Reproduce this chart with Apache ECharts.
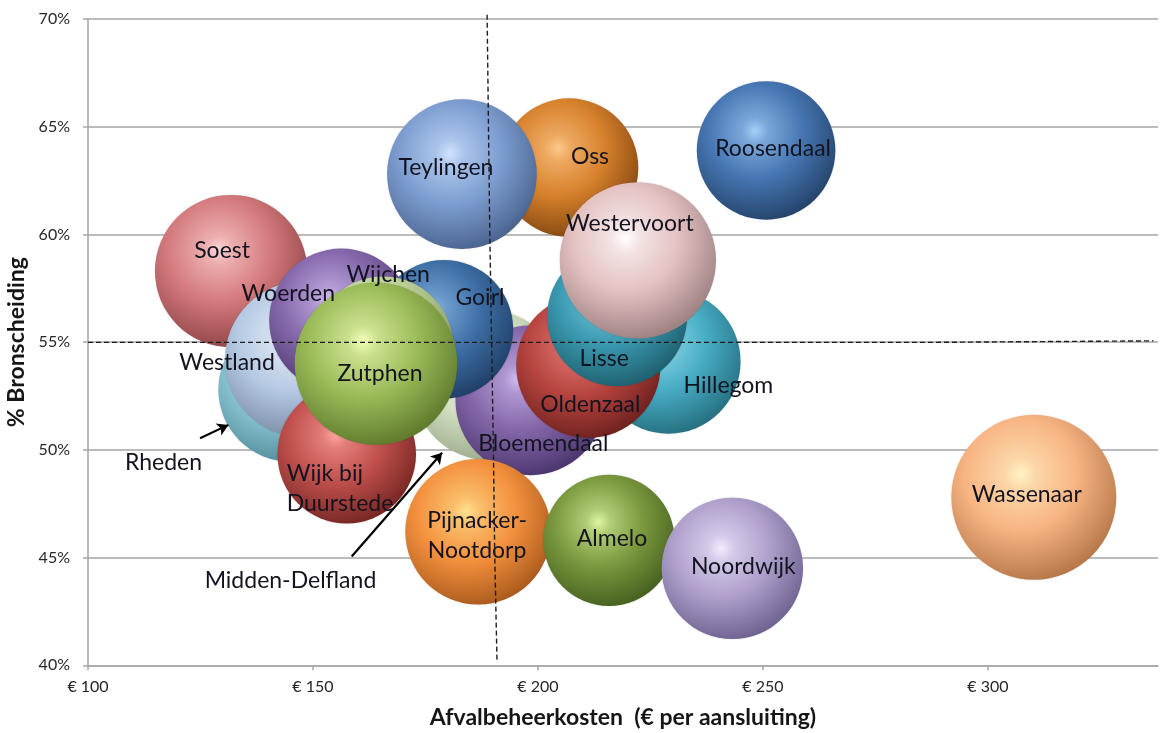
<!DOCTYPE html>
<html>
<head>
<meta charset="utf-8">
<script src="https://cdn.jsdelivr.net/npm/echarts@6/dist/echarts.min.js"></script>
<style>
  html, body { margin: 0; padding: 0; background: #ffffff; }
  #chart { width: 1162px; height: 733px; }
</style>
</head>
<body>
<div id="chart"></div>
<script>
// Gemeenten, drawn bottom-to-top (later entries overlap earlier ones)
const names = ['Oss', 'Teylingen', 'Roosendaal', 'Soest', 'Rheden', 'Westland', 'Woerden',
  'Midden-Delfland', 'Bloemendaal', 'Goirl', 'Wijchen', 'Wijk bij Duurstede', 'Zutphen',
  'Hillegom', 'Oldenzaal', 'Lisse', 'Westervoort', 'Pijnacker-Nootdorp', 'Almelo',
  'Noordwijk', 'Wassenaar'];

// Afvalbeheerkosten (€ per aansluiting)
const costs = [206.9, 183.1, 250.7, 131.8, 145.0, 147.8, 156.3,
  189.0, 198.3, 179.1, 165.6, 157.5, 164.0,
  229.0, 211.2, 217.6, 222.2, 186.7, 215.8,
  243.2, 310.2];

// % Bronscheiding
const shares = [63.1, 62.8, 63.9, 58.3, 52.8, 54.2, 56.0,
  53.0, 52.3, 55.6, 54.8, 49.8, 54.0,
  54.1, 53.9, 56.2, 58.8, 46.2, 45.8,
  44.5, 47.8];

// Bubble size value (area-proportional)
const sizes = [48, 56, 48, 58, 52, 61, 52,
  56, 56, 48, 49, 48, 66,
  52, 52, 49, 61, 53, 43,
  50, 68];

// Reference lines and annotation arrows (data coordinates)
const refCost = [[188.7, 70.2], [189.3, 60], [190.1, 50], [190.4, 45], [190.9, 40.2]];
const refShare = [[100, 54.99], [287.5, 54.99], [287.6, 55.06], [336.8, 55.06]];
const arrows = [
  [[124.9, 50.54], [131.2, 51.16]],
  [[158.6, 45.05], [178.7, 49.87]]
];

// axis ticks
const xMin = 100, xMax = 337.8, xStep = 50;
const yMin = 40, yMax = 70, yStep = 5;

// ---- styling ----
// [base, highlight, shade]
const palette = [
  ['#d7812c', '#ffc98a', '#7d420e'],   // Oss
  ['#7d9dd1', '#cfe3ff', '#465f8a'],   // Teylingen
  ['#4676b3', '#a5cff8', '#223f66'],   // Roosendaal
  ['#d47a7c', '#ffd6d6', '#8a4043'],   // Soest
  ['#8cc6d5', '#e2f8ff', '#4f8996'],   // Rheden
  ['#b6cae3', '#f6f9ff', '#75869e'],   // Westland
  ['#8568ab', '#d8c4f5', '#4a356b'],   // Woerden
  ['#d3e1c3', '#f7fcef', '#98a888'],   // Midden-Delfland
  ['#8466a8', '#d2bff2', '#46326a'],   // Bloemendaal
  ['#3e6fa6', '#95c0ee', '#1d3c63'],   // Goirl
  ['#c2d69e', '#f3fbdc', '#7b8e5b'],   // Wijchen
  ['#c0504d', '#ffa4a0', '#722321'],   // Wijk bij Duurstede
  ['#9bbb59', '#f2ffb8', '#5a7528'],   // Zutphen
  ['#48adc5', '#aeeaf8', '#236b7b'],   // Hillegom
  ['#b8443f', '#f38f8a', '#6a1f1c'],   // Oldenzaal
  ['#3a99b0', '#92e0f0', '#1d5b6a'],   // Lisse
  ['#e4c1c1', '#ffffff', '#977b7b'],   // Westervoort
  ['#f4913e', '#ffe38f', '#a5561a'],   // Pijnacker-Nootdorp
  ['#7a983e', '#dcf6a0', '#425c1c'],   // Almelo
  ['#afa0cc', '#f3ebff', '#6b5d8c'],   // Noordwijk
  ['#f8b483', '#fff4c6', '#b07244']    // Wassenaar
];

// label text offsets from bubble centre, in pixels
const labelOffsets = [
  [21, -11], [-16, -7], [7, -2], [-9, -20], [-127, 73], [-76, 3], [-53, -27],
  [-198, 195], [13, 43], [36, -32], [5, -72], [-60, 34], [4, 10],
  [60, 24], [2, 39], [-13, 42], [-8, -37], [-1, 4], [3, -2],
  [11, -2], [-7, -3]
];

const labelText = {
  'Wijk bij Duurstede': 'Wijk bij\nDuurstede',
  'Pijnacker-Nootdorp': 'Pijnacker-\nNootdorp'
};

function sphere(c) {
  return {
    type: 'radial', x: 0.42, y: 0.36, r: 0.68,
    colorStops: [
      { offset: 0, color: c[1] },
      { offset: 0.14, color: echarts.color.lerp(0.45, [c[1], c[0]]) },
      { offset: 0.5, color: c[0] },
      { offset: 0.86, color: echarts.color.lerp(0.7, [c[0], c[2]]) },
      { offset: 1, color: c[2] }
    ]
  };
}

const bubbles = names.map((n, i) => ({
  name: n,
  value: [costs[i], shares[i], sizes[i]],
  itemStyle: { color: sphere(palette[i]) },
  label: {
    formatter: labelText[n] || n,
    offset: labelOffsets[i],
    align: n === 'Wijk bij Duurstede' ? 'left' : 'center'
  }
}));

const FONT = 'Lato, "Open Sans", sans-serif';

const chart = echarts.init(document.getElementById('chart'), null, { renderer: 'canvas' });

chart.setOption({
  animation: false,
  backgroundColor: '#ffffff',
  grid: {
    left: 88, right: 4, top: 19, bottom: 67.7,
    containLabel: false,
    outerBoundsMode: 'none'
  },
  xAxis: {
    type: 'value',
    min: xMin, max: xMax, interval: xStep,
    name: 'Afvalbeheerkosten  (€ per aansluiting)',
    nameLocation: 'middle',
    nameGap: 41,
    nameTextStyle: { fontFamily: FONT, fontSize: 23, fontWeight: 'bold', color: '#161616' },
    axisLine: { show: true, lineStyle: { color: '#a6a6a6', width: 1.5 } },
    axisTick: { show: true, length: 5, inside: false, lineStyle: { color: '#a6a6a6', width: 1.5 } },
    axisLabel: {
      margin: 14, fontFamily: FONT, fontSize: 16, color: '#262626',
      showMaxLabel: false,
      formatter: v => '€ ' + v
    },
    splitLine: { show: false }
  },
  yAxis: {
    type: 'value',
    min: yMin, max: yMax, interval: yStep,
    name: '% Bronscheiding',
    nameLocation: 'middle',
    nameGap: 55,
    nameTextStyle: { fontFamily: FONT, fontSize: 23, fontWeight: 'bold', color: '#161616' },
    axisLine: { show: true, lineStyle: { color: '#a6a6a6', width: 1.5 } },
    axisTick: { show: true, length: 5, inside: false, lineStyle: { color: '#a6a6a6', width: 1.5 } },
    axisLabel: {
      margin: 18, fontFamily: FONT, fontSize: 16, color: '#262626',
      formatter: v => v + '%'
    },
    splitLine: { show: true, lineStyle: { color: '#a6a6a6', width: 1.5 } }
  },
  series: [
    {
      type: 'scatter',
      z: 2,
      data: bubbles,
      symbol: 'circle',
      symbolSize: d => 20 * Math.sqrt(d[2]),
      itemStyle: { opacity: 1, shadowBlur: 2, shadowColor: 'rgba(0,0,0,0.15)' },
      label: {
        show: true,
        position: 'inside',
        fontFamily: FONT,
        fontSize: 23,
        lineHeight: 30,
        color: '#141420'
      },
      emphasis: { disabled: true },
      silent: true
    },
    {
      type: 'line',
      z: 10,
      data: refCost,
      symbol: 'none',
      clip: false,
      lineStyle: { color: '#1e1e1e', width: 1.4, type: [5, 3] },
      silent: true
    },
    {
      type: 'line',
      z: 10,
      data: refShare,
      symbol: 'none',
      clip: false,
      lineStyle: { color: '#1e1e1e', width: 1.4, type: [5, 3] },
      silent: true
    },
    {
      type: 'scatter',
      z: 10,
      data: [],
      silent: true,
      markLine: {
        silent: true,
        symbol: ['none', 'arrow'],
        symbolSize: [10, 11],
        label: { show: false },
        lineStyle: { color: '#000000', width: 2.2, type: 'solid' },
        data: arrows.map(a => [{ coord: a[0] }, { coord: a[1] }])
      }
    }
  ]
});
</script>
</body>
</html>
